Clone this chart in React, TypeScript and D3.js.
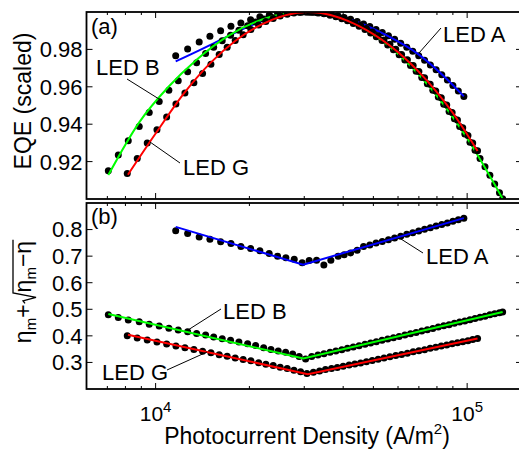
import { useEffect, useRef } from 'react';
import * as d3 from 'd3';

// LED A
const ledAJ = [11600, 12670, 13800, 14940, 16170, 17450, 18780, 20180, 21610, 23150, 24630, 26190, 27860, 29540, 31120, 32860, 34680, 36520, 38550, 40300, 42250, 44360, 46500, 48700, 51000, 53400, 55900, 58500, 61200, 64000, 66900, 69900, 73000, 76200, 79500, 82900, 86400, 90000, 93700, 97600];
const ledAEqe = [0.9766, 0.9802, 0.9839, 0.9870, 0.9900, 0.9924, 0.9941, 0.9959, 0.9974, 0.9983, 0.9991, 0.9996, 0.9999, 1.0000, 0.9999, 0.9997, 0.9993, 0.9987, 0.9979, 0.9971, 0.9961, 0.9949, 0.9936, 0.9922, 0.9907, 0.9890, 0.9873, 0.9854, 0.9833, 0.9811, 0.9790, 0.9766, 0.9742, 0.9717, 0.9691, 0.9664, 0.9636, 0.9607, 0.9578, 0.9548];
const ledAEta = [0.796, 0.785, 0.772, 0.764, 0.754, 0.748, 0.736, 0.729, 0.720, 0.710, 0.700, 0.694, 0.688, 0.675, 0.684, 0.685, 0.667, 0.685, 0.700, 0.705, 0.712, 0.722, 0.736, 0.742, 0.749, 0.755, 0.762, 0.768, 0.775, 0.782, 0.788, 0.795, 0.801, 0.807, 0.813, 0.819, 0.825, 0.831, 0.837, 0.843];

// LED B
const ledBJ = [7050, 7590, 8170, 8860, 9540, 10270, 11030, 11820, 12670, 13540, 14470, 15360, 16360, 17400, 18510, 19740, 20940, 22220, 23450, 24750, 26140, 27530, 28900, 30300, 31700, 33200, 34700, 36300, 37900, 39600, 41300, 43100, 45000, 47000, 49000, 51100, 53300, 55600, 58000, 60500, 63100, 65800, 68600, 71500, 74500, 77600, 80800, 84100, 87500, 91000, 94600, 98300, 102100, 106000, 110000, 114100, 118300, 122600, 127000, 130000];
const ledBEqe = [0.9151, 0.9235, 0.9312, 0.9388, 0.9463, 0.9522, 0.9581, 0.9633, 0.9680, 0.9728, 0.9778, 0.9812, 0.9846, 0.9876, 0.9902, 0.9927, 0.9946, 0.9962, 0.9975, 0.9984, 0.9992, 0.9997, 0.9999, 1.0000, 0.9999, 0.9995, 0.9990, 0.9983, 0.9975, 0.9964, 0.9953, 0.9939, 0.9924, 0.9906, 0.9888, 0.9868, 0.9847, 0.9823, 0.9798, 0.9772, 0.9743, 0.9714, 0.9683, 0.9650, 0.9616, 0.9581, 0.9545, 0.9507, 0.9468, 0.9429, 0.9388, 0.9347, 0.9304, 0.9261, 0.9217, 0.9172, 0.9127, 0.9080, 0.9034, 0.9002];
const ledBEta = [0.479, 0.469, 0.460, 0.453, 0.444, 0.437, 0.429, 0.422, 0.415, 0.409, 0.403, 0.396, 0.389, 0.383, 0.377, 0.370, 0.364, 0.355, 0.349, 0.343, 0.338, 0.332, 0.322, 0.313, 0.322, 0.328, 0.333, 0.338, 0.343, 0.348, 0.353, 0.358, 0.363, 0.368, 0.373, 0.378, 0.383, 0.388, 0.393, 0.398, 0.403, 0.408, 0.413, 0.418, 0.423, 0.428, 0.433, 0.438, 0.442, 0.447, 0.452, 0.456, 0.461, 0.465, 0.470, 0.474, 0.479, 0.483, 0.487, 0.490];

// LED G
const ledGJ = [8110, 8730, 9400, 10100, 10850, 11620, 12420, 13270, 14150, 15050, 16000, 16970, 18010, 19100, 20220, 21410, 22590, 23850, 25110, 26450, 27800, 29200, 30600, 32100, 33600, 35100, 36700, 38300, 40000, 41800, 43600, 45500, 47500, 49600, 51800, 54100, 56500, 59000, 61600, 64300, 67100, 70000, 73000, 76100, 79300, 82600, 86000, 89500, 93100, 96800, 100600, 104200, 108000];
const ledGEqe = [0.9137, 0.9216, 0.9299, 0.9370, 0.9439, 0.9508, 0.9567, 0.9621, 0.9671, 0.9720, 0.9773, 0.9812, 0.9848, 0.9879, 0.9907, 0.9930, 0.9949, 0.9965, 0.9978, 0.9988, 0.9994, 0.9998, 1.0000, 0.9999, 0.9996, 0.9992, 0.9986, 0.9978, 0.9968, 0.9956, 0.9943, 0.9928, 0.9912, 0.9893, 0.9873, 0.9850, 0.9827, 0.9801, 0.9773, 0.9745, 0.9714, 0.9682, 0.9649, 0.9614, 0.9578, 0.9541, 0.9503, 0.9463, 0.9423, 0.9381, 0.9340, 0.9300, 0.9258];
const ledGEta = [0.400, 0.392, 0.384, 0.377, 0.369, 0.362, 0.355, 0.349, 0.342, 0.336, 0.329, 0.323, 0.317, 0.311, 0.306, 0.299, 0.293, 0.288, 0.282, 0.277, 0.271, 0.265, 0.258, 0.263, 0.268, 0.273, 0.277, 0.281, 0.286, 0.290, 0.294, 0.298, 0.303, 0.307, 0.312, 0.317, 0.321, 0.326, 0.330, 0.335, 0.340, 0.344, 0.348, 0.353, 0.357, 0.362, 0.366, 0.370, 0.374, 0.378, 0.382, 0.386, 0.390];

// fitted curves
const fitATopJ = [11600, 13800, 16200, 18800, 21600, 25000, 30000, 40000, 55000, 70000, 85000, 97600];
const fitATopV = [0.9736, 0.9795, 0.9852, 0.9905, 0.9947, 0.9985, 1.0, 0.9972, 0.9876, 0.9772, 0.9650, 0.9549];
const fitBTopJ = [7050, 8860, 11000, 13540, 17000, 22000, 30000, 45000, 70000, 100000, 130000];
const fitBTopV = [0.9128, 0.9410, 0.9600, 0.9745, 0.9870, 0.9960, 1.0, 0.9925, 0.9665, 0.9325, 0.9002];
const fitGTopJ = [8150, 10000, 12400, 15000, 18000, 22000, 30800, 45000, 70000, 90000, 108000];
const fitGTopV = [0.9130, 0.9350, 0.9570, 0.9728, 0.9845, 0.9935, 1.0, 0.9925, 0.9680, 0.9460, 0.9257];

const fitABotJ = [11600, 29770, 97600];
const fitABotV = [0.810, 0.668, 0.843];
const fitBBotJ = [7050, 29800, 130000];
const fitBBotV = [0.482, 0.315, 0.490];
const fitGBotJ = [8150, 30800, 108000];
const fitGBotV = [0.404, 0.256, 0.390];

const topTicks = [0.92, 0.94, 0.96, 0.98];
const botTicks = [0.3, 0.4, 0.5, 0.6, 0.7, 0.8];
const xMajor = [1e4, 1e5];
const xMinor = [7000, 8000, 9000, 20000, 30000, 40000, 50000, 60000, 70000, 80000, 90000];

const FONT = '"Liberation Sans", Arial, Helvetica, sans-serif';

export default function App() {
  const svgRef = useRef<SVGSVGElement>(null);

  useEffect(() => {
    if (!svgRef.current) return;
    const svg = d3.select(svgRef.current);
    svg.selectAll('*').remove();

    const left = 86.5, right = 522;
    const x = d3.scaleLog().domain([6000, 150000]).range([left, right]);

    const zip = (js: number[], vs: number[]) => js.map((j, i) => [j, vs[i]] as [number, number]);

    const panels = [
      {
        id: 'a', y: d3.scaleLinear().domain([0.9, 1.0]).range([199, 12]),
        ticks: topTicks, fmt: d3.format('.2f'), curve: d3.curveMonotoneX,
        series: [
          { pts: zip(ledAJ, ledAEqe), fit: zip(fitATopJ, fitATopV), color: '#0000ff' },
          { pts: zip(ledBJ, ledBEqe), fit: zip(fitBTopJ, fitBTopV), color: '#00ff00' },
          { pts: zip(ledGJ, ledGEqe), fit: zip(fitGTopJ, fitGTopV), color: '#ff0000' },
        ],
      },
      {
        id: 'b', y: d3.scaleLinear().domain([0.2, 0.9]).range([389, 203]),
        ticks: botTicks, fmt: d3.format('.1f'), curve: d3.curveLinear,
        series: [
          { pts: zip(ledAJ, ledAEta), fit: zip(fitABotJ, fitABotV), color: '#0000ff' },
          { pts: zip(ledBJ, ledBEta), fit: zip(fitBBotJ, fitBBotV), color: '#00ff00' },
          { pts: zip(ledGJ, ledGEta), fit: zip(fitGBotJ, fitGBotV), color: '#ff0000' },
        ],
      },
    ];

    panels.forEach(p => {
      const [yb, yt] = p.y.range();
      svg.append('clipPath').attr('id', 'clip-' + p.id)
        .append('rect').attr('x', left).attr('y', yt).attr('width', right - left).attr('height', yb - yt);

      const g = svg.append('g').attr('clip-path', `url(#clip-${p.id})`);
      const line = d3.line<[number, number]>().x(d => x(d[0])).y(d => p.y(d[1])).curve(p.curve);

      p.series.forEach(s => {
        g.append('g').selectAll('circle').data(s.pts).join('circle')
          .attr('cx', d => x(d[0])).attr('cy', d => p.y(d[1])).attr('r', 3.5).attr('fill', '#000');
        g.append('path').datum(s.fit).attr('d', line)
          .attr('fill', 'none').attr('stroke', s.color).attr('stroke-width', 2);
      });

      // ticks, pointing inward on all four sides
      const tk = svg.append('g').attr('stroke', '#000').attr('stroke-width', 1);
      p.ticks.forEach(t => {
        tk.append('line').attr('x1', left).attr('x2', left + 6).attr('y1', p.y(t)).attr('y2', p.y(t));
        tk.append('line').attr('x1', right - 6).attr('x2', right).attr('y1', p.y(t)).attr('y2', p.y(t));
      });
      xMajor.forEach(t => {
        tk.append('line').attr('x1', x(t)).attr('x2', x(t)).attr('y1', yb).attr('y2', yb - 6);
        tk.append('line').attr('x1', x(t)).attr('x2', x(t)).attr('y1', yt).attr('y2', yt + 6);
      });
      xMinor.forEach(t => {
        tk.append('line').attr('x1', x(t)).attr('x2', x(t)).attr('y1', yb).attr('y2', yb - 3);
        tk.append('line').attr('x1', x(t)).attr('x2', x(t)).attr('y1', yt).attr('y2', yt + 3);
      });

      svg.append('rect').attr('x', left).attr('y', yt).attr('width', right - left).attr('height', yb - yt)
        .attr('fill', 'none').attr('stroke', '#000').attr('stroke-width', 1.8);

      svg.append('g').attr('font-family', FONT).attr('font-size', 22).attr('text-anchor', 'end')
        .selectAll('text').data(p.ticks).join('text')
        .attr('x', left - 4).attr('y', d => p.y(d)).attr('dy', '0.36em').text(d => p.fmt(d));
    });

    // x tick labels
    const xl = svg.append('g').attr('font-family', FONT).attr('font-size', 21).attr('text-anchor', 'middle');
    xMajor.forEach(t => {
      const tx = xl.append('text').attr('x', x(t)).attr('y', 421);
      tx.append('tspan').text('10');
      tx.append('tspan').attr('font-size', 15).attr('dy', -9).text(String(Math.round(Math.log10(t))));
    });

    const txt = (xx: number, yy: number, s: string) =>
      svg.append('text').attr('x', xx).attr('y', yy).attr('font-family', FONT).attr('font-size', 22).text(s);
    const lead = (x1: number, y1: number, x2: number, y2: number) =>
      svg.append('line').attr('x1', x1).attr('y1', y1).attr('x2', x2).attr('y2', y2).attr('stroke', '#000').attr('stroke-width', 1);

    txt(91, 34, '(a)');
    txt(91, 224, '(b)');
    txt(443, 41.5, 'LED A'); lead(441, 28, 419, 53);
    txt(96, 75, 'LED B'); lead(127, 79, 159, 99);
    txt(183, 175, 'LED G'); lead(180, 163, 150, 142);
    txt(426, 263.5, 'LED A'); lead(423, 253, 401, 239);
    txt(223, 318.5, 'LED B'); lead(221, 309, 188, 330);
    txt(102, 380, 'LED G'); lead(167, 370, 207, 352);

    // axis labels
    const xlab = svg.append('text').attr('x', 307).attr('y', 444).attr('text-anchor', 'middle')
      .attr('font-family', FONT).attr('font-size', 23);
    xlab.append('tspan').text('Photocurrent Density (A/m');
    xlab.append('tspan').attr('font-size', 15).attr('dy', -10).text('2');
    xlab.append('tspan').attr('dy', 10).text(')');

    svg.append('text').attr('transform', 'translate(31,101) rotate(-90)').attr('text-anchor', 'middle')
      .attr('font-family', FONT).attr('font-size', 23).text('EQE (scaled)');

    // η_m + sqrt(η_m − η)
    const yg = svg.append('g').attr('transform', 'translate(31,292) rotate(-90)');
    const inner = yg.append('g');
    const t1 = inner.append('text').attr('font-family', FONT).attr('font-size', 23);
    t1.append('tspan').text('η');
    t1.append('tspan').attr('font-size', 15).attr('dy', 5).text('m');
    t1.append('tspan').attr('dy', -5).text('+');
    const w1 = (t1.node() as SVGTextElement).getComputedTextLength();
    const rw = 12;
    const t2 = inner.append('text').attr('x', w1 + rw).attr('font-family', FONT).attr('font-size', 23);
    t2.append('tspan').text('η');
    t2.append('tspan').attr('font-size', 15).attr('dy', 5).text('m');
    t2.append('tspan').attr('dy', -5).text('−η');
    const w2 = (t2.node() as SVGTextElement).getComputedTextLength();
    const r0 = w1 + 1;
    inner.append('path')
      .attr('d', `M${r0},-6 L${r0 + 2.5},-8 L${r0 + 6},5 L${r0 + rw - 1.5},-18 H${w1 + rw + w2 + 1}`)
      .attr('fill', 'none').attr('stroke', '#000').attr('stroke-width', 1.3);
    inner.attr('transform', `translate(${-(w1 + rw + w2) / 2},0)`);
  }, []);

  return (
    <svg ref={svgRef} width={519} height={455}
      style={{ position: 'absolute', left: 0, top: 0, background: '#fff' }} />
  );
}
